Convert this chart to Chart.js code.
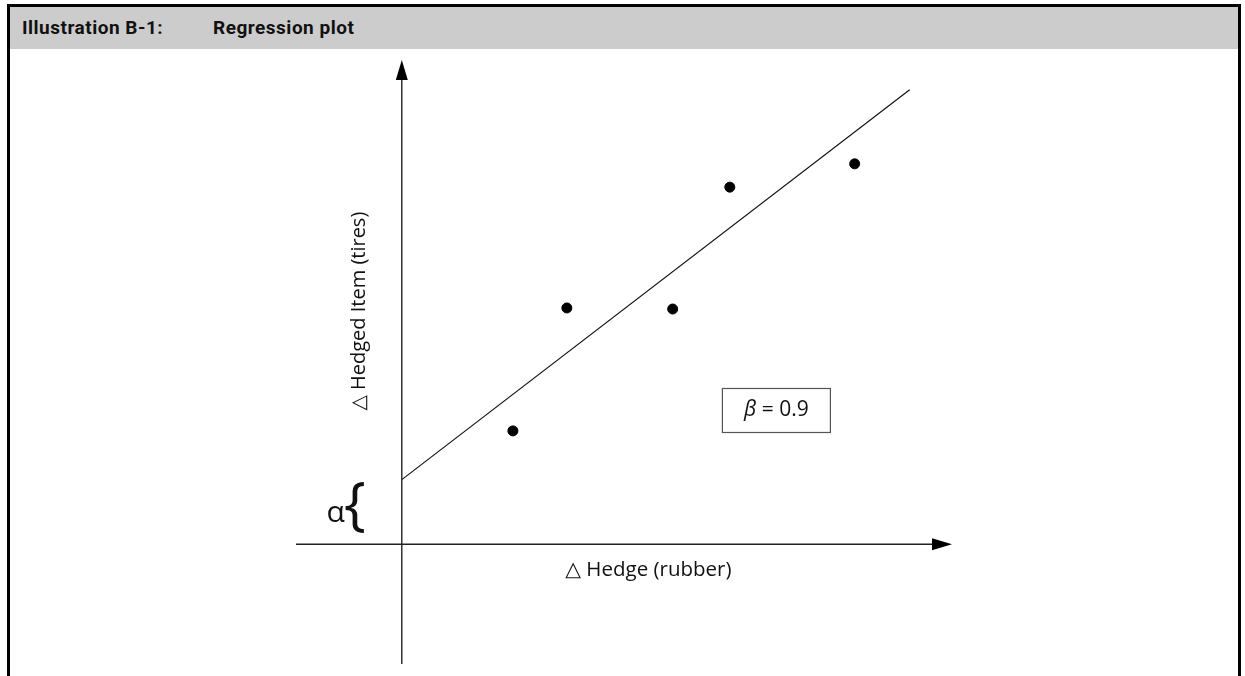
<!DOCTYPE html>
<html>
<head>
<meta charset="utf-8">
<script src="https://cdn.jsdelivr.net/npm/chart.js@4"></script>
<style>
html, body { margin: 0; padding: 0; background: #fff; width: 1245px; height: 676px; overflow: hidden; }
#frame { position: absolute; left: 7px; top: 4px; width: 1228px; height: 700px; border: 3px solid #000; border-bottom: none; }
#head { position: absolute; left: 0; top: 0; width: 1228px; height: 42px; background: #cccccc;
        font-family: "Roboto", "Liberation Sans", sans-serif; font-weight: bold; font-size: 19px; letter-spacing: 0.5px; color: #111; }
#head span { position: absolute; top: 9px; }
#wrap { position: absolute; left: 0; top: 42px; width: 1228px; height: 627px; }
</style>
</head>
<body>
<div id="frame">
  <div id="head"><span style="left:12px">Illustration B-1:</span><span style="left:203px">Regression plot</span></div>
  <div id="wrap"><canvas id="chart" width="1228" height="627"></canvas></div>
</div>
<script>
// 五个观测点（Δ对冲工具 vs Δ被对冲项目）
const hedgeX = [1.05, 1.56, 2.56, 3.10, 4.28];
const hedgedY = [1.07, 2.23, 2.22, 3.37, 3.59];
// 回归线两端
const fitX = [0, 4.80];
const fitY = [0.61, 4.29];
const betaText = "0.9";
const xRange = [-1, 5.2];
const yRange = [-1.13, 4.57];
const xLabel = "\u25B3 Hedge (rubber)";
const yLabel = "\u25B3 Hedged Item (tires)";

const txtFont = '"Open Sans", "DejaVu Sans", sans-serif';

// 画坐标轴箭头、轴标题、α 括号、β 方框
const decorPlugin = {
    id: "decor",
    afterDatasetsDraw(chart) {
        const ctx = chart.ctx;
        const xs = chart.scales.x, ys = chart.scales.y;
        const ox = xs.getPixelForValue(0), oy = ys.getPixelForValue(0);
        const area = chart.chartArea;
        ctx.save();
        ctx.strokeStyle = "#222";
        ctx.fillStyle = "#000";
        ctx.lineWidth = 1.4;
        // y 轴
        ctx.beginPath();
        ctx.moveTo(ox, area.bottom);
        ctx.lineTo(ox, area.top + 18);
        ctx.stroke();
        ctx.beginPath();
        ctx.moveTo(ox, area.top);
        ctx.lineTo(ox - 6, area.top + 20);
        ctx.lineTo(ox + 6, area.top + 20);
        ctx.closePath();
        ctx.fill();
        // x 轴
        ctx.beginPath();
        ctx.moveTo(area.left, oy);
        ctx.lineTo(area.right - 18, oy);
        ctx.stroke();
        ctx.beginPath();
        ctx.moveTo(area.right, oy);
        ctx.lineTo(area.right - 20, oy - 6);
        ctx.lineTo(area.right - 20, oy + 6);
        ctx.closePath();
        ctx.fill();

        // 轴标题
        ctx.fillStyle = "#111";
        ctx.font = "20.5px " + txtFont;
        ctx.textAlign = "left";
        ctx.textBaseline = "alphabetic";
        ctx.fillText(xLabel, xs.getPixelForValue(1.545), oy + 32);
        ctx.save();
        ctx.translate(ox - 37, ys.getPixelForValue(2.2));
        ctx.rotate(-Math.PI / 2);
        ctx.textAlign = "center";
        ctx.font = "20px " + txtFont;
        ctx.fillText(yLabel, 0, 0);
        ctx.restore();

        // α 括号
        const iy = ys.getPixelForValue(fitY[0]);
        ctx.textBaseline = "middle";
        ctx.textAlign = "right";
        ctx.font = "58px " + txtFont;
        ctx.fillText("{", ox - 36, (iy + oy) / 2 - 4);
        ctx.font = "30px " + txtFont;
        ctx.fillText("\u03B1", ox - 57, (iy + oy) / 2 + 2);

        // β 方框
        const bx = xs.getPixelForValue(3.03), by = ys.getPixelForValue(1.47);
        ctx.strokeStyle = "#555";
        ctx.lineWidth = 1.2;
        ctx.strokeRect(bx, by, 108, 44);
        ctx.textAlign = "left";
        ctx.font = "italic 21px " + txtFont;
        const bw = ctx.measureText("\u03B2").width;
        ctx.font = "21px " + txtFont;
        const rest = " = " + betaText;
        const rw = ctx.measureText(rest).width;
        let tx = bx + 54 - (bw + rw) / 2;
        ctx.font = "italic 21px " + txtFont;
        ctx.fillText("\u03B2", tx, by + 22);
        ctx.font = "21px " + txtFont;
        ctx.fillText(rest, tx + bw, by + 22);
        ctx.restore();
    }
};

const ctx = document.getElementById("chart").getContext("2d");
new Chart(ctx, {
    type: "scatter",
    data: {
        datasets: [
            {
                label: "观测",
                data: hedgeX.map((x, i) => ({ x: x, y: hedgedY[i] })),
                backgroundColor: "#000",
                borderColor: "#000",
                pointRadius: 5,
                order: 1
            },
            {
                label: "回归线",
                type: "line",
                data: fitX.map((x, i) => ({ x: x, y: fitY[i] })),
                borderColor: "#111",
                borderWidth: 1.2,
                pointRadius: 0,
                fill: false,
                order: 2
            }
        ]
    },
    options: {
        responsive: false,
        animation: false,
        layout: { padding: { left: 286, right: 286, top: 11, bottom: 12 } },
        scales: {
            x: { type: "linear", min: xRange[0], max: xRange[1], display: false },
            y: { type: "linear", min: yRange[0], max: yRange[1], display: false }
        },
        plugins: { legend: { display: false }, tooltip: { enabled: false } }
    },
    plugins: [decorPlugin]
});
</script>
</body>
</html>
